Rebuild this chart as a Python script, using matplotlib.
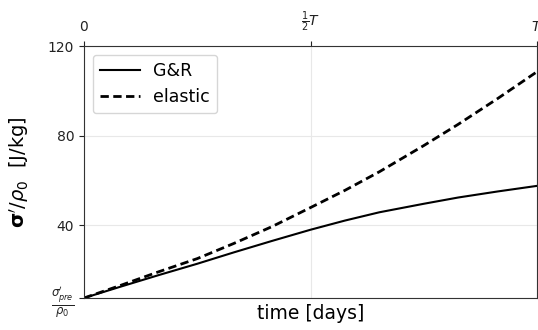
import matplotlib
matplotlib.use("Agg")
import matplotlib.pyplot as plt

t = [0, 0.083, 0.166, 0.25, 0.331, 0.415, 0.5, 0.576, 0.652, 0.75, 0.826, 0.913, 1.0]
gr = [7.4, 12.6, 17.7, 22.7, 27.8, 32.9, 37.9, 42.0, 45.7, 49.5, 52.3, 55.0, 57.5]
elastic = [7.4, 13.2, 19.2, 25.0, 31.8, 39.3, 47.8, 55.5, 63.8, 75.5, 85.0, 96.5, 108.5]
sigma_pre = 7.4
xticks = [0, 0.5, 1.0]
xticklabels = ["0", r"$\frac{1}{2}T$", r"$T$"]
yticks = [sigma_pre, 40, 80, 120]
yticklabels = [r"$\frac{\sigma^{\prime}_{pre}}{\rho_0}$", "40", "80", "120"]

fig = plt.figure(figsize=(5.38, 3.30), dpi=100)
ax = fig.add_axes([84/538, 1-298/330, (537-84)/538, (298-46)/330])
ax.plot(t, gr, color="black", lw=1.5, label="G&R")
ax.plot(t, elastic, color="black", lw=2, ls=(0, (3, 1.6)), label="elastic")
ax.set_xlim(0, 1)
ax.set_ylim(sigma_pre, 120)
ax.xaxis.tick_top()
ax.set_xticks(xticks)
ax.set_xticklabels(xticklabels, fontsize=10)
ax.tick_params(axis="x", pad=5)
ax.set_yticks(yticks)
ax.set_yticklabels(yticklabels, fontsize=10)
ax.get_yticklabels()[0].set_fontsize(12)
ax.grid(True, color="#e8e8e8", lw=0.8)
for s in ax.spines.values():
    s.set_color("#333333")
ax.tick_params(colors="#222222")
ax.set_xlabel("time [days]", fontsize=13.5)
ax.set_ylabel(r"$\mathbf{\sigma}^{\prime}/\rho_0$  [J/kg]", fontsize=14, labelpad=12)
ax.legend(loc="upper left", fontsize=12.5, handlelength=2.3)
fig.savefig("out.png", dpi=100)
